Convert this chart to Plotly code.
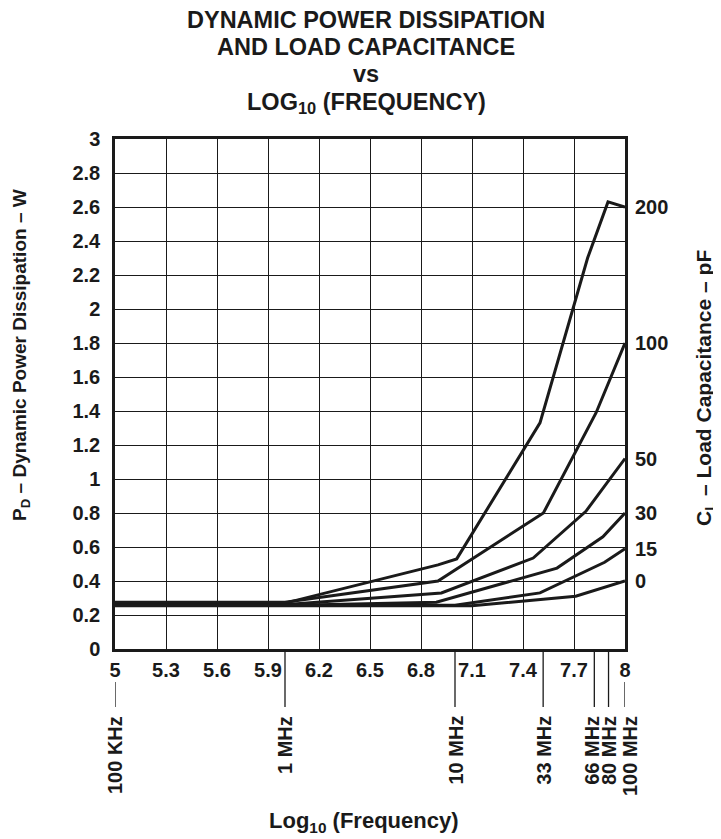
import math
import plotly.graph_objects as go

# ---- data ----
cap_labels = ["200", "100", "50", "30", "15", "0"]

x_200 = [5.0, 6.0, 6.9, 7.01, 7.5, 7.78, 7.9, 8.0]
y_200 = [0.27, 0.27, 0.495, 0.53, 1.33, 2.30, 2.63, 2.60]

x_100 = [5.0, 6.0, 6.9, 7.52, 7.83, 8.0]
y_100 = [0.275, 0.275, 0.40, 0.80, 1.39, 1.80]

x_50 = [5.0, 6.05, 6.92, 7.46, 7.77, 8.0]
y_50 = [0.265, 0.265, 0.33, 0.535, 0.81, 1.12]

x_30 = [5.0, 6.2, 6.89, 7.6, 7.87, 8.0]
y_30 = [0.26, 0.26, 0.275, 0.476, 0.66, 0.80]

x_15 = [5.0, 7.0, 7.5, 7.88, 8.0]
y_15 = [0.258, 0.258, 0.33, 0.51, 0.59]

x_0 = [5.0, 7.1, 7.71, 8.0]
y_0 = [0.255, 0.255, 0.31, 0.40]

x_ticks = [5, 5.3, 5.6, 5.9, 6.2, 6.5, 6.8, 7.1, 7.4, 7.7, 8]
y_ticks = [0, 0.2, 0.4, 0.6, 0.8, 1, 1.2, 1.4, 1.6, 1.8, 2, 2.2, 2.4, 2.6, 2.8, 3]

freq_hz = [1e5, 1e6, 1e7, 33e6, 66e6, 80e6, 100e6]
freq_labels = ["100 KHz", "1 MHz", "10 MHz", "33 MHz", "66 MHz", "80 MHz", "100 MHz"]

title_lines = ["DYNAMIC POWER DISSIPATION", "AND LOAD CAPACITANCE", "vs",
               "LOG<sub>10</sub> (FREQUENCY)"]

# ---- figure ----
FONT = "Liberation Sans, Arial, Helvetica, sans-serif"
INK = "#1a1a1a"
PH = 510.0  # plot height in px
PW = 510.0  # plot width in px
BOT = 641   # plot bottom, figure px
LEFT = 107  # plot left, figure px

series = [(x_200, y_200), (x_100, y_100), (x_50, y_50),
          (x_30, y_30), (x_15, y_15), (x_0, y_0)]

fig = go.Figure()
for (xs, ys), lab in zip(series, cap_labels):
    fig.add_trace(go.Scatter(x=xs, y=ys, mode="lines", name=lab + " pF",
                             line=dict(color=INK, width=3), showlegend=False))

annotations = []
# right-hand capacitance labels at curve ends
for (xs, ys), lab in zip(series, cap_labels):
    annotations.append(dict(x=xs[-1], y=ys[-1], xref="x", yref="y", text=lab,
                            showarrow=False, xanchor="left", yanchor="middle",
                            xshift=8, font=dict(size=20, color=INK)))

# frequency markers below the axis
shapes = []
for f, lab in zip(freq_hz, freq_labels):
    lx = math.log10(f)
    end_label = abs(lx - 5) < 1e-9 or abs(lx - 8) < 1e-9
    y0 = -33 / PH if end_label else 0
    # keep the three crowded labels at the right apart
    shift = {"66 MHz": -3, "100 MHz": 5}.get(lab, 0)
    shapes.append(dict(type="line", xref="x", yref="paper", x0=lx, x1=lx,
                       y0=y0, y1=-58 / PH, line=dict(color=INK, width=1.3)))
    annotations.append(dict(x=lx, y=-65 / PH, xref="x", yref="paper", text=lab,
                            textangle=-90, showarrow=False, xanchor="center",
                            yanchor="top", xshift=shift,
                            font=dict(size=20, color=INK)))

# title lines (figure px y of line centres)
for txt, ypx in zip(title_lines, [12, 39, 66, 95]):
    annotations.append(dict(x=0.493, y=(BOT - ypx) / PH, xref="paper", yref="paper",
                            text=txt, showarrow=False, xanchor="center",
                            yanchor="middle", height=24, valign="middle",
                            font=dict(size=23.5, color=INK)))

# axis titles
annotations.append(dict(x=0.488, y=(BOT - 814) / PH, xref="paper", yref="paper",
                        text="Log<sub>10</sub> (Frequency)", showarrow=False,
                        xanchor="center", yanchor="middle",
                        font=dict(size=22, color=INK)))
annotations.append(dict(x=(13 - LEFT) / PW, y=(BOT - 347) / PH, xref="paper",
                        yref="paper", text="P<sub>D</sub> – Dynamic Power Dissipation – W",
                        textangle=-90, showarrow=False, xanchor="center",
                        yanchor="middle", font=dict(size=19, color=INK)))
annotations.append(dict(x=(697 - LEFT) / PW, y=(BOT - 380) / PH, xref="paper",
                        yref="paper", text="C<sub>L</sub> – Load Capacitance – pF",
                        textangle=-90, showarrow=False, xanchor="center",
                        yanchor="middle", font=dict(size=21, color=INK)))

fig.update_layout(
    width=721, height=839,
    margin=dict(l=LEFT, r=721 - LEFT - int(PW), t=BOT - int(PH), b=839 - BOT, pad=0),
    paper_bgcolor="white", plot_bgcolor="white",
    font=dict(family=FONT, color=INK, size=20, weight="bold"),
    annotations=annotations, shapes=shapes,
    xaxis=dict(range=[5, 8], tickvals=x_ticks,
               ticktext=[("%g" % v) for v in x_ticks],
               showgrid=True, gridcolor=INK, gridwidth=1,
               showline=True, linecolor=INK, linewidth=2.5, mirror=True,
               zeroline=False, ticks="", ticklabelstandoff=1,
               tickfont=dict(size=20, color=INK)),
    yaxis=dict(range=[0, 3], tickvals=y_ticks,
               ticktext=[("%g" % v) for v in y_ticks],
               showgrid=True, gridcolor=INK, gridwidth=1,
               showline=True, linecolor=INK, linewidth=2.5, mirror=True,
               zeroline=False, ticks="", ticklabelstandoff=8,
               tickfont=dict(size=20, color=INK)),
)

fig.write_html("out.html")
